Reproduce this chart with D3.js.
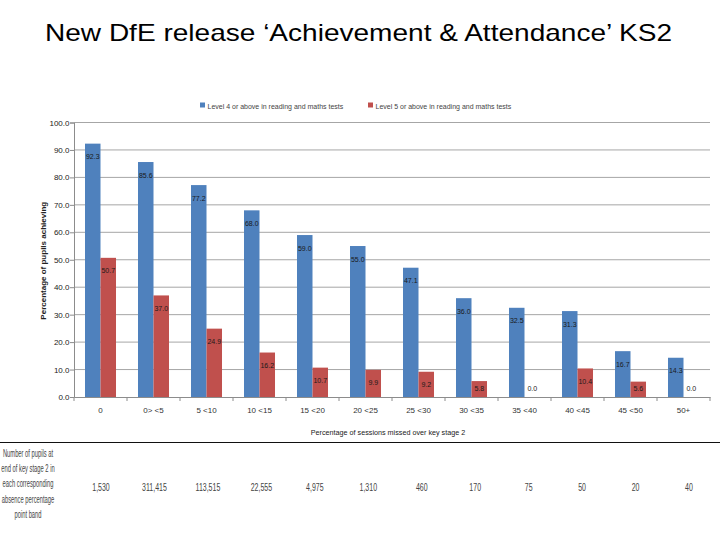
<!DOCTYPE html>
<html>
<head>
<meta charset="utf-8">
<script src="https://cdn.jsdelivr.net/npm/d3@7"></script>
<style>
  html, body { margin: 0; padding: 0; background: #fff; }
  svg { display: block; }
  text { font-family: "Liberation Sans", Arial, sans-serif; }
</style>
</head>
<body>
<svg id="chart" width="720" height="540"></svg>
<script>
const categories = ["0", "0> <5", "5 <10", "10 <15", "15 <20", "20 <25", "25 <30", "30 <35", "35 <40", "40 <45", "45 <50", "50+"];
const level4 = [92.3, 85.6, 77.2, 68.0, 59.0, 55.0, 47.1, 36.0, 32.5, 31.3, 16.7, 14.3];
const level5 = [50.7, 37.0, 24.9, 16.2, 10.7, 9.9, 9.2, 5.8, 0.0, 10.4, 5.6, 0.0];
const pupils = ["1,530", "311,415", "113,515", "22,555", "4,975", "1,310", "460", "170", "75", "50", "20", "40"];
const yTicks = [0, 10, 20, 30, 40, 50, 60, 70, 80, 90, 100];
const seriesNames = ["Level 4 or above in reading and maths tests", "Level 5 or above in reading and maths tests"];
const caption = ["Number of pupils at", "end of key stage 2 in", "each corresponding", "absence percentage", "point band"];
const colors = ["#4F81BD", "#C0504D"];

const svg = d3.select("#chart");

// helper: horizontally compressed text
function stext(parent, x, y, txt, size, sx, anchor, fill) {
  return parent.append("text")
    .attr("transform", `translate(${x},${y}) scale(${sx},1)`)
    .attr("text-anchor", anchor || "middle")
    .style("font-size", size + "px")
    .attr("fill", fill || "#333")
    .text(txt);
}

// Title
svg.append("text")
  .attr("x", 45).attr("y", 41)
  .attr("textLength", 627).attr("lengthAdjust", "spacingAndGlyphs")
  .style("font-size", "24px")
  .attr("fill", "#000")
  .text("New DfE release \u2018Achievement & Attendance\u2019 KS2");

const pL = 74, pR = 710, pT = 122.5, pB = 397;
const x = d3.scaleBand().domain(categories).range([pL, pR]).paddingInner(0.415).paddingOuter(0.2075);
const xs = d3.scaleBand().domain([0, 1]).range([0, x.bandwidth()]);
const y = d3.scaleLinear().domain([0, 100]).range([pB, pT]);
const xt = d3.scalePoint().domain(categories).range([101, 689]);

// gridlines
svg.append("g").selectAll("line").data(yTicks.filter(d => d > 0)).join("line")
  .attr("x1", pL).attr("x2", pR)
  .attr("y1", d => y(d)).attr("y2", d => y(d))
  .attr("stroke", "#a6a6a6").attr("stroke-width", 1);

// y axis
const yAxis = svg.append("g").attr("transform", `translate(${pL},0)`)
  .call(d3.axisLeft(y).tickValues(yTicks).tickFormat(d3.format(".1f")).tickSize(4));
yAxis.select(".domain").attr("stroke", "#8c8c8c");
yAxis.selectAll(".tick line").attr("stroke", "#8c8c8c");
yAxis.selectAll("text").style("font-family", "'Liberation Sans', Arial, sans-serif")
  .style("font-size", "8px").attr("fill", "#222").attr("x", -4.5);

// x axis
const xAxis = svg.append("g").attr("transform", `translate(0,${pB})`)
  .call(d3.axisBottom(x).tickSize(0).tickPadding(10));
xAxis.select(".domain").attr("stroke", "#8c8c8c");
xAxis.selectAll("text").style("font-family", "'Liberation Sans', Arial, sans-serif")
  .style("font-size", "8px").attr("fill", "#333");
// category boundary ticks
const step = x.step();
svg.append("g").selectAll("line").data(d3.range(categories.length + 1)).join("line")
  .attr("x1", i => pL + i * step).attr("x2", i => pL + i * step)
  .attr("y1", pB).attr("y2", pB + 4)
  .attr("stroke", "#8c8c8c");

// bars
const series = [level4, level5];
series.forEach((vals, s) => {
  const g = svg.append("g");
  g.selectAll("rect").data(vals).join("rect")
    .attr("x", (d, i) => x(categories[i]) + xs(s))
    .attr("y", d => y(d))
    .attr("width", xs.bandwidth())
    .attr("height", d => pB - y(d))
    .attr("fill", colors[s]);
  const lg = svg.append("g");
  vals.forEach((d, i) => {
    stext(lg, x(categories[i]) + xs(s) + xs.bandwidth() / 2, Math.min(y(d) + 15.5, pB - 6.5),
      d.toFixed(1), 8, 0.88, "middle", "#1a1a1a");
  });
});

// legend
const legendX = [200, 368];
seriesNames.forEach((n, s) => {
  svg.append("rect").attr("x", legendX[s]).attr("y", 102.5).attr("width", 5).attr("height", 5).attr("fill", colors[s]);
  stext(svg, legendX[s] + 7.5, 108.5, n, 7, 1, "start", "#444");
});

// axis titles
stext(svg, 388, 435, "Percentage of sessions missed over key stage 2", 8, 0.9, "middle", "#222");
svg.append("text")
  .attr("transform", `translate(46,${(pT + pB) / 2 + 1}) rotate(-90)`)
  .attr("text-anchor", "middle")
  .style("font-size", "8px").style("font-weight", "bold").attr("fill", "#222")
  .text("Percentage of pupils achieving");

// separator line
svg.append("line").attr("x1", 0).attr("x2", 720).attr("y1", 442.5).attr("y2", 442.5)
  .attr("stroke", "#111").attr("stroke-width", 1.2);

// left caption
const cg = svg.append("g");
caption.forEach((c, i) => stext(cg, 28, 457 + i * 15.2, c, 10, 0.58, "middle", "#444"));

// pupil counts
const pg = svg.append("g");
pupils.forEach((p, i) => stext(pg, xt(categories[i]), 490.5, p, 10, 0.7, "middle", "#444"));
</script>
</body>
</html>
